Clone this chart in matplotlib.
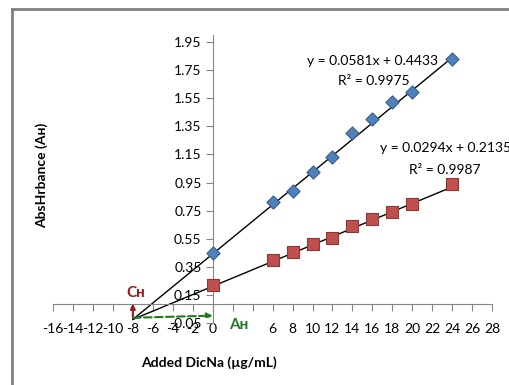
import matplotlib.pyplot as plt
from matplotlib.lines import Line2D

plt.rcParams['font.family'] = ['Lato', 'DejaVu Sans']

# standard addition data
added = [0, 6, 8, 10, 12, 14, 16, 18, 20, 24]
abs_blue = [0.453, 0.809, 0.891, 1.022, 1.133, 1.299, 1.401, 1.520, 1.595, 1.827]
abs_red = [0.221, 0.399, 0.458, 0.517, 0.557, 0.643, 0.690, 0.742, 0.797, 0.937]

# trendlines as printed on the chart
fit_blue = (0.0581, 0.4433)
fit_red = (0.0294, 0.2135)
trend_x = [-8, 24]

xticks = list(range(-16, 29, 2))
xtick_labels = [str(v) if v not in (2, 4) else '' for v in xticks]
yticks = [-0.05, 0.15, 0.35, 0.55, 0.75, 0.95, 1.15, 1.35, 1.55, 1.75, 1.95]
ytick_labels = ['-0.05', '0.15', '0.35', '0.55', '0.75', '0.95', '1.15', '1.35', '1.55', '1.75', '1.95']

fig = plt.figure(figsize=(5.1, 3.85), dpi=100)
ax = fig.add_axes([0.104, 0.160, 0.861, 0.750])
ax.set_xlim(-16, 28)
ax.set_ylim(-0.05, 2.0)

for s in ['top', 'right']:
    ax.spines[s].set_visible(False)
ax.spines['left'].set_position(('data', 0))
ax.spines['bottom'].set_position(('data', 0.09))
for s in ['left', 'bottom']:
    ax.spines[s].set_color('#868686')

ax.set_xticks(xticks)
ax.set_xticklabels(xtick_labels)
ax.set_yticks(yticks)
ax.set_yticklabels(ytick_labels)
ax.tick_params(axis='x', direction='out', length=5, pad=9, labelsize=10, color='#868686')
ax.tick_params(axis='y', direction='out', length=5, pad=3, labelsize=10, color='#868686')

# trendlines, extended back to x = -8
for m, b in [fit_blue, fit_red]:
    ax.plot(trend_x, [m * x + b for x in trend_x], color='black', lw=1, zorder=2)

ax.scatter(added, abs_blue, marker='D', s=45, color='#4F81BD', edgecolor='#385D8A', lw=0.8, zorder=3, clip_on=False)
ax.scatter(added, abs_red, marker='s', s=80, color='#C0504D', edgecolor='#8C3836', lw=0.8, zorder=3, clip_on=False)

ax.text(16.0, 1.813, 'y = 0.0581x + 0.4433', ha='center', va='center', fontsize=10)
ax.text(16.1, 1.671, 'R² = 0.9975', ha='center', va='center', fontsize=10)
ax.text(16.8, 1.195, 'y = 0.0294x + 0.2135', ha='left', va='center', fontsize=10)
ax.text(23.3, 1.038, 'R² = 0.9987', ha='center', va='center', fontsize=10)

# C_H / A_H arrows
red = '#A0171B'
green = '#1E7B1E'
ax.annotate('', xy=(-8, 0.09), xytext=(-8, -0.01),
            arrowprops=dict(arrowstyle='-|>', color=red, lw=1.5, mutation_scale=7,
                            shrinkA=0, shrinkB=0))
ax.annotate('', xy=(0, 0.005), xytext=(-8, -0.01),
            arrowprops=dict(arrowstyle='-|>', color=green, lw=1.5, ls='--', mutation_scale=8,
                            shrinkA=0, shrinkB=0))
ax.text(-7.7, 0.164, 'Cʜ', color=red, fontsize=11, fontweight='bold', ha='center', va='center')
ax.text(2.6, -0.063, 'Aʜ', color=green, fontsize=11, fontweight='bold', ha='center', va='center')

fig.text(0.082, 0.545, 'AbsHrbance (Aʜ)', rotation=90, ha='center', va='center', fontsize=10, fontweight='bold')
fig.text(0.41, 0.057, 'Added DicNa (µg/mL)', ha='center', va='center', fontsize=10, fontweight='bold')

# outer chart frame
fx = 12 / 510
fy = 1 - 9 / 385
fig.add_artist(Line2D([fx, fx], [0, fy], color='#808080', lw=2, transform=fig.transFigure))
fig.add_artist(Line2D([fx, 1], [fy, fy], color='#808080', lw=2, transform=fig.transFigure))

fig.savefig('out.png', dpi=100)
